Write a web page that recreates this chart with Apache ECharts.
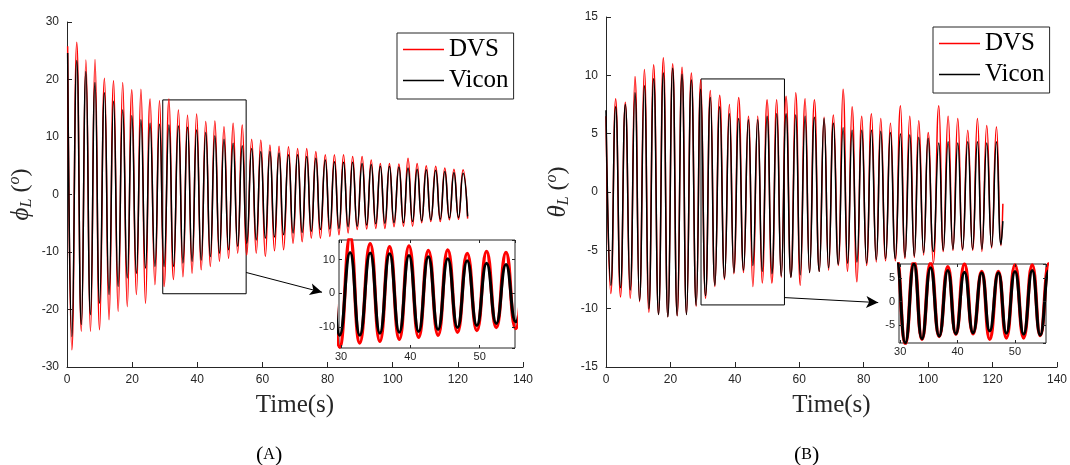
<!DOCTYPE html>
<html>
<head>
<meta charset="utf-8">
<script src="https://cdn.jsdelivr.net/npm/echarts@6/dist/echarts.min.js"></script>
<style>html,body{margin:0;padding:0;background:#fff}#c{width:1070px;height:465px}</style>
</head>
<body>
<div id="c"></div>
<script>
// ---------- Panel A: phi_L ----------
const phiPeakTime = [0.2, 3.0, 5.8, 8.6, 11.5, 14.3, 17.1, 19.9, 22.7, 25.5, 28.4, 31.3, 34.2, 37.0, 39.8, 42.6, 45.4, 48.2, 51.0, 53.8, 56.7, 59.5, 62.3, 65.1, 68.0, 70.8, 73.6, 76.4, 79.3, 82.1, 84.9, 87.7, 90.6, 93.4, 96.2, 99.0, 101.9, 104.7, 107.5, 110.3, 113.2, 116.0, 118.8, 121.6];
const phiPeakVicon = [24.6, 23.3, 21.4, 19.5, 17.7, 16.2, 14.7, 13.7, 13.0, 12.4, 12.2, 12.1, 11.9, 11.7, 11.2, 10.8, 10.2, 9.6, 8.9, 8.5, 8.0, 7.5, 7.5, 7.2, 6.9, 6.9, 6.6, 6.3, 6.0, 5.7, 5.6, 5.6, 5.4, 5.2, 4.9, 4.9, 4.8, 4.6, 4.4, 4.3, 4.2, 4.0, 3.8, 3.7];
const phiPeakDVS = [25.8, 26.5, 23.4, 23.5, 20.2, 19.8, 19.5, 18.2, 18.3, 16.6, 16.3, 16.6, 14.7, 13.8, 14.0, 12.7, 12.8, 11.8, 12.4, 12.1, 9.6, 9.5, 8.6, 8.4, 8.3, 8.0, 8.0, 7.5, 6.9, 6.9, 6.9, 6.6, 6.6, 6.0, 5.4, 5.4, 5.3, 6.3, 5.4, 5.0, 4.9, 4.6, 4.4, 4.3];
const phiTroughTime = [1.5, 4.4, 7.2, 10.0, 12.9, 15.7, 18.5, 21.3, 24.1, 27.0, 29.8, 32.7, 35.6, 38.4, 41.2, 44.0, 46.8, 49.6, 52.4, 55.2, 58.1, 60.9, 63.7, 66.5, 69.4, 72.2, 75.0, 77.8, 80.7, 83.5, 86.3, 89.1, 92.0, 94.8, 97.6, 100.4, 103.3, 106.1, 108.9, 111.7, 114.6, 117.4, 120.2, 123.0];
const phiTroughVicon = [-24.7, -22.6, -20.9, -18.9, -17.4, -16.0, -14.5, -13.7, -12.8, -12.5, -12.5, -12.5, -11.9, -11.6, -11.4, -10.8, -10.2, -9.6, -9.0, -8.5, -7.9, -7.6, -7.4, -7.0, -6.7, -6.6, -6.4, -6.1, -6.0, -5.9, -5.6, -5.5, -5.3, -5.1, -5.0, -4.9, -4.9, -4.7, -4.6, -4.4, -4.3, -4.1, -4.0, -3.8];
const phiTroughDVS = [-27.0, -23.8, -23.8, -23.5, -21.8, -20.3, -19.5, -17.4, -18.9, -15.7, -16.0, -14.8, -14.3, -13.7, -13.1, -12.5, -11.6, -11.1, -10.2, -10.5, -10.2, -10.8, -9.8, -9.6, -8.5, -8.2, -7.6, -7.6, -7.3, -7.0, -6.7, -6.1, -6.0, -5.9, -5.9, -5.6, -5.5, -5.5, -4.9, -4.7, -4.7, -4.4, -4.3, -4.2];

// ---------- Panel B: theta_L ----------
const thetaPeakTime = [0.0, 3.0, 6.0, 9.0, 11.9, 14.8, 17.8, 20.7, 23.6, 26.5, 29.4, 32.4, 35.3, 38.3, 41.2, 44.2, 47.1, 50.0, 53.0, 55.9, 58.9, 61.8, 64.7, 67.7, 70.6, 73.6, 76.4, 79.4, 82.4, 85.3, 88.3, 91.4, 94.3, 97.1, 100.0, 103.3, 106.2, 109.2, 112.3, 115.3, 118.2, 121.2];
const thetaPeakVicon = [7.0, 7.3, 7.5, 8.5, 9.1, 9.7, 10.2, 10.6, 10.1, 9.6, 8.8, 8.1, 7.3, 6.7, 6.3, 6.2, 6.2, 6.5, 6.7, 6.7, 6.6, 6.5, 6.4, 6.3, 5.9, 5.5, 5.3, 5.3, 5.3, 5.2, 5.1, 5.0, 4.9, 4.7, 4.6, 4.2, 4.3, 4.2, 4.3, 4.3, 4.2, 4.3];
const thetaPeakDVS = [6.5, 8.0, 7.7, 9.9, 10.5, 10.9, 11.5, 11.0, 10.7, 10.2, 9.6, 8.7, 8.3, 7.5, 8.1, 6.5, 6.5, 7.9, 7.9, 8.2, 8.5, 8.0, 7.9, 6.4, 6.6, 8.8, 7.3, 6.5, 6.7, 6.3, 5.9, 7.4, 6.5, 6.1, 5.1, 7.4, 6.5, 6.3, 5.3, 6.3, 5.7, 5.6];
const thetaTroughTime = [1.5, 4.5, 7.5, 10.4, 13.3, 16.3, 19.2, 22.1, 25.0, 28.0, 30.9, 33.8, 36.8, 39.7, 42.7, 45.6, 48.5, 51.5, 54.4, 57.4, 60.3, 63.2, 66.2, 69.1, 72.1, 75.0, 77.9, 80.9, 83.9, 86.8, 89.8, 92.8, 95.7, 98.6, 101.6, 104.7, 107.7, 110.7, 113.8, 116.7, 119.7, 122.6, 123.2];
const thetaTroughVicon = [-8.0, -8.2, -8.4, -9.3, -10.0, -10.5, -10.7, -10.6, -10.5, -9.7, -8.9, -8.0, -7.4, -6.9, -6.7, -6.3, -6.8, -7.0, -7.2, -7.3, -7.1, -6.9, -6.8, -6.5, -6.2, -6.1, -6.0, -6.1, -5.8, -5.7, -5.7, -5.6, -5.5, -5.2, -5.1, -5.0, -4.9, -4.9, -4.9, -4.9, -4.7, -4.5, -2.5];
const thetaTroughDVS = [-8.7, -9.0, -9.1, -9.4, -10.3, -10.5, -10.7, -10.6, -10.5, -9.8, -9.1, -8.1, -7.5, -7.0, -6.9, -8.1, -7.8, -7.8, -7.3, -7.3, -8.0, -6.9, -6.8, -6.7, -6.3, -6.8, -7.7, -6.3, -6.0, -5.9, -5.9, -5.7, -5.6, -5.4, -6.1, -5.1, -5.0, -5.0, -5.0, -5.1, -4.8, -4.6, -1.0];

// axis tick settings
const xTicks = {min: 0, max: 140, interval: 20};
const phiTicks = {min: -30, max: 30, interval: 10};
const thetaTicks = {min: -15, max: 15, interval: 5};
const phiZoom = {xmin: 29.7, xmax: 55.1, ymin: -16.3, ymax: 15.8};
const thetaZoom = {xmin: 29.8, xmax: 55.4, ymin: -8.9, ymax: 8.1};
const phiBox = [[29.4, 16.45], [55.0, -17.26]];
const thetaBox = [[29.5, 9.69], [55.4, -9.68]];
const phiArrow = [[55.0, -13.56], [78.3, -17.0]];
const thetaArrow = [[55.4, -9.05], [84.5, -9.48]];

function merge(pt, pv, tt, tv) {
  const out = [];
  for (let i = 0; i < pt.length; i++) out.push([pt[i], pv[i]]);
  for (let i = 0; i < tt.length; i++) out.push([tt[i], tv[i]]);
  return out.sort((a, b) => a[0] - b[0]);
}
const phiVicon = merge(phiPeakTime, phiPeakVicon, phiTroughTime, phiTroughVicon);
const phiDVS = merge(phiPeakTime, phiPeakDVS, phiTroughTime, phiTroughDVS);
const thetaVicon = merge(thetaPeakTime, thetaPeakVicon, thetaTroughTime, thetaTroughVicon);
const thetaDVS = merge(thetaPeakTime, thetaPeakDVS, thetaTroughTime, thetaTroughDVS);

const AX = '#262626';
const SANS = 'Liberation Sans';
const SERIF = 'Liberation Serif';

function mainX(grid) {
  return {
    type: 'value', gridIndex: grid, min: xTicks.min, max: xTicks.max, interval: xTicks.interval,
    name: 'Time(s)', nameLocation: 'middle', nameGap: 26,
    nameTextStyle: {fontFamily: SERIF, fontSize: 25, color: AX},
    axisLine: {show: true, onZero: false, lineStyle: {color: AX, width: 1}},
    axisTick: {show: true, inside: true, length: 5, lineStyle: {color: AX}},
    axisLabel: {fontFamily: SANS, fontSize: 12, color: AX, margin: 7},
    splitLine: {show: false}
  };
}
function mainY(grid, t, nameTxt, gap) {
  return {
    type: 'value', gridIndex: grid, min: t.min, max: t.max, interval: t.interval,
    name: nameTxt, nameLocation: 'middle', nameGap: gap, nameRotate: 90,
    nameTextStyle: {
      fontFamily: SERIF, fontSize: 24, color: AX,
      rich: {
        g: {fontFamily: SERIF, fontSize: 25, fontStyle: 'italic', color: AX},
        s: {fontFamily: SERIF, fontSize: 16, fontStyle: 'italic', color: AX, padding: [12, 0, 0, 0]},
        n: {fontFamily: SERIF, fontSize: 24, color: AX},
        p: {fontFamily: SERIF, fontSize: 16, fontStyle: 'italic', color: AX, padding: [0, 0, 12, 0]}
      }
    },
    axisLine: {show: true, onZero: false, lineStyle: {color: AX, width: 1}},
    axisTick: {show: true, inside: true, length: 5, lineStyle: {color: AX}},
    axisLabel: {fontFamily: SANS, fontSize: 12, color: AX, margin: 8},
    splitLine: {show: false}
  };
}
function insetX(grid, z, pos, labels) {
  return {
    type: 'value', gridIndex: grid, min: z.xmin, max: z.xmax, splitNumber: 3, position: pos, z: 12,
    axisLine: {show: false, onZero: false},
    axisTick: {show: true, inside: true, length: 3, lineStyle: {color: AX}},
    axisLabel: {show: labels, fontFamily: SANS, fontSize: 11, color: AX, margin: 3, showMinLabel: false, showMaxLabel: false},
    splitLine: {show: false}
  };
}
function insetY(grid, z, pos, labels) {
  return {
    type: 'value', gridIndex: grid, min: z.ymin, max: z.ymax, splitNumber: 3, position: pos, z: 12,
    axisLine: {show: false, onZero: false},
    axisTick: {show: true, inside: true, length: 3, lineStyle: {color: AX}},
    axisLabel: {show: labels, fontFamily: SANS, fontSize: 11, color: AX, margin: 4, showMinLabel: false, showMaxLabel: false},
    splitLine: {show: false}
  };
}

function line(name, data, xi, yi, color, width, z, extra) {
  return Object.assign({
    type: 'line', name: name, data: data, xAxisIndex: xi, yAxisIndex: yi,
    smooth: 0.5, showSymbol: false, symbol: 'none', clip: true, z: z,
    lineStyle: {color: color, width: width}, itemStyle: {color: color},
    animation: false
  }, extra || {});
}
function markers(box, arrow) {
  return {
    markArea: {
      silent: true,
      itemStyle: {color: 'rgba(0,0,0,0)', borderColor: '#000', borderWidth: 1},
      label: {show: false},
      data: [[{coord: box[0]}, {coord: box[1]}]]
    },
    markLine: {
      silent: true, symbol: ['none', 'arrow'], symbolSize: [9, 12],
      lineStyle: {color: '#000', width: 1, type: 'solid'},
      label: {show: false},
      data: [[{coord: arrow[0]}, {coord: arrow[1]}]]
    }
  };
}

const legendBase = {
  orient: 'vertical', data: ['DVS', 'Vicon'], icon: 'rect', itemWidth: 41, itemHeight: 1.5, itemGap: 6,
  borderColor: AX, borderWidth: 1, backgroundColor: '#fff', padding: [4, 5, 6, 6],
  textStyle: {fontFamily: SERIF, fontSize: 25, color: '#000'}, selectedMode: false
};

const option = {
  animation: false,
  backgroundColor: '#fff',
  title: [
    {text: '({a|A})', left: 251, top: 439, textStyle: {fontFamily: SERIF, fontSize: 22, fontWeight: 'normal', color: '#000', rich: {a: {fontFamily: SERIF, fontSize: 16, color: '#000'}}}},
    {text: '({a|B})', left: 789, top: 439, textStyle: {fontFamily: SERIF, fontSize: 22, fontWeight: 'normal', color: '#000', rich: {a: {fontFamily: SERIF, fontSize: 16, color: '#000'}}}}
  ],
  legend: [
    Object.assign({}, legendBase, {left: 397, top: 33}),
    Object.assign({}, legendBase, {left: 933, top: 27})
  ],
  grid: [
    {left: 67, top: 22, width: 456, height: 345},
    {left: 606, top: 17, width: 454, height: 350},
    {left: 339, top: 240, width: 176, height: 108, show: true, backgroundColor: '#fff', borderColor: AX, borderWidth: 1, z: 10},
    {left: 899, top: 264, width: 147, height: 79, show: true, backgroundColor: '#fff', borderColor: AX, borderWidth: 1, z: 10}
  ],
  xAxis: [
    mainX(0), mainX(1),
    insetX(2, phiZoom, 'bottom', true), insetX(2, phiZoom, 'top', false),
    insetX(3, thetaZoom, 'bottom', true), insetX(3, thetaZoom, 'top', false)
  ],
  yAxis: [
    mainY(0, phiTicks, '{g|ϕ}{s|L}{n| (}{p|o}{n|)}', 32),
    mainY(1, thetaTicks, '{g|θ}{s|L}{n| (}{p|o}{n|)}', 34),
    insetY(2, phiZoom, 'left', true), insetY(2, phiZoom, 'right', false),
    insetY(3, thetaZoom, 'left', true), insetY(3, thetaZoom, 'right', false)
  ],
  series: [
    line('DVS', phiDVS, 0, 0, '#ff0000', 1.5, 2),
    line('Vicon', phiVicon, 0, 0, '#000000', 1.5, 3, markers(phiBox, phiArrow)),
    line('DVS', thetaDVS, 1, 1, '#ff0000', 1.5, 2),
    line('Vicon', thetaVicon, 1, 1, '#000000', 1.5, 3, markers(thetaBox, thetaArrow)),
    line('DVS', phiDVS, 2, 2, '#ff0000', 3.5, 11),
    line('Vicon', phiVicon, 2, 2, '#000000', 3, 11),
    line('DVS', thetaDVS, 4, 4, '#ff0000', 3.5, 11),
    line('Vicon', thetaVicon, 4, 4, '#000000', 3, 11)
  ]
};

const chart = echarts.init(document.getElementById('c'), null, {renderer: 'canvas'});
chart.setOption(option);
</script>
</body>
</html>
